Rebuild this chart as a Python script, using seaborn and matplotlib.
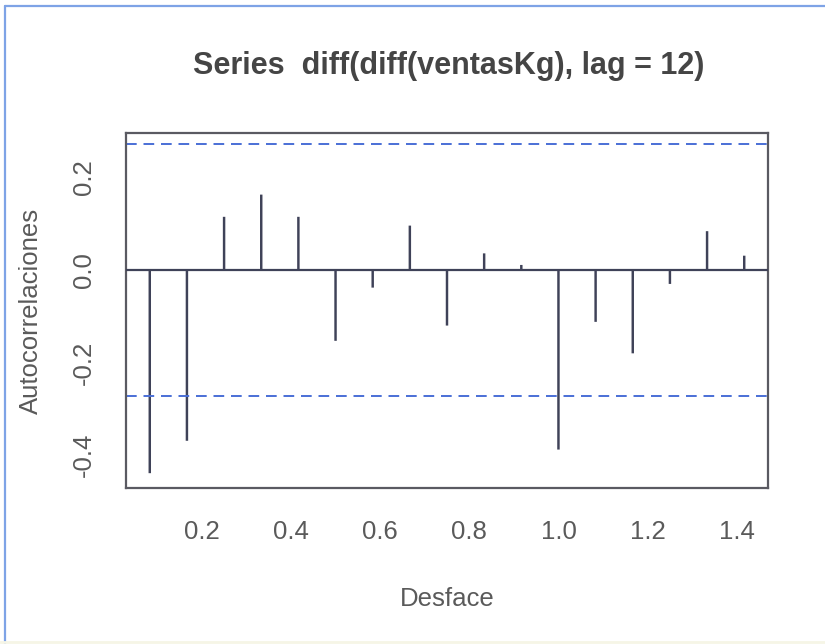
import numpy as np
import pandas as pd
import matplotlib
matplotlib.use("Agg")
import matplotlib.pyplot as plt
from matplotlib.lines import Line2D
import seaborn as sns

# ---- data ----
lags = [1/12, 2/12, 3/12, 4/12, 5/12, 6/12, 7/12, 8/12, 9/12,
        10/12, 11/12, 12/12, 13/12, 14/12, 15/12, 16/12, 17/12]
acf_values = [-0.439, -0.369, 0.115, 0.163, 0.115, -0.153, -0.038, 0.096, -0.120,
              0.036, 0.011, -0.388, -0.112, -0.180, -0.030, 0.084, 0.031]
conf_limit = 0.272
x_ticks = [0.2, 0.4, 0.6, 0.8, 1.0, 1.2, 1.4]
x_tick_labels = ["0.2", "0.4", "0.6", "0.8", "1.0", "1.2", "1.4"]
y_ticks = [-0.4, -0.3, -0.2, -0.1, 0.0, 0.1, 0.2]
y_tick_labels = ["-0.4", "", "-0.2", "", "0.0", "", "0.2"]
title = "Series  diff(diff(ventasKg), lag = 12)"
x_label = "Desface"
y_label = "Autocorrelaciones"

df = pd.DataFrame({"lag": lags, "acf": acf_values})

sns.set_theme(style="white")
plt.rcParams["font.family"] = ["Liberation Sans", "DejaVu Sans"]

W, H = 825, 644
fig = plt.figure(figsize=(W / 100, H / 100), dpi=100)
fig.patch.set_facecolor("white")
ax = fig.add_axes([126 / W, 1 - 487.7 / H, (768 - 126) / W, (487.7 - 133.3) / H])

bar_color = "#3f4258"
sns.barplot(data=df, x="lag", y="acf", native_scale=True, width=0.066,
            color=bar_color, saturation=1, errorbar=None, linewidth=0, ax=ax)
for p in ax.patches:
    p.set_snap(False)

ax.axhline(0, color=bar_color, lw=1.6, zorder=3)
for s in (conf_limit, -conf_limit):
    ax.axhline(s, color="#4a6fd6", lw=1.4, ls=(0, (5.5, 3.5)), zorder=2)

ax.set_xlim(0.0300, 1.4700)
ax.set_ylim(-0.4704, 0.2955)

ax.set_xticks(x_ticks)
ax.set_xticklabels(x_tick_labels)
ax.set_yticks(y_ticks)
ax.set_yticklabels(y_tick_labels, rotation=90, va="center")

for sp in ax.spines.values():
    sp.set_visible(True)
    sp.set_color("#5a5a62")
    sp.set_linewidth(1.6)

ax.tick_params(axis="both", direction="out", length=9.5, width=1.2,
               color="#5a5a62", labelsize=18.5, labelcolor="#5a5a5a")
ax.tick_params(axis="x", pad=14)
ax.tick_params(axis="y", pad=12)
ax.grid(False)

ax.set_xlabel(x_label, fontsize=18.5, color="#5a5a5a")
ax.set_ylabel(y_label, fontsize=18.5, color="#5a5a5a")
ax.xaxis.set_label_coords(0.5, -0.28)
ax.yaxis.set_label_coords(-0.13, 0.5)

fig.text(449 / W, 1 - 74 / H, title, ha="center", va="baseline",
         fontsize=22, fontweight="bold", color="#454545")

# outer frame of the screenshot
fig.add_artist(Line2D([5 / W, 1], [1 - 6 / H, 1 - 6 / H], transform=fig.transFigure,
                      color="#7ea3e6", lw=1.6))
fig.add_artist(Line2D([5 / W, 5 / W], [0, 1 - 6 / H], transform=fig.transFigure,
                      color="#7ea3e6", lw=1.6))
fig.add_artist(Line2D([0, 1], [2 / H, 2 / H], transform=fig.transFigure,
                      color="#f6f5e6", lw=2))

fig.savefig("out.png", dpi=100, facecolor="white")
